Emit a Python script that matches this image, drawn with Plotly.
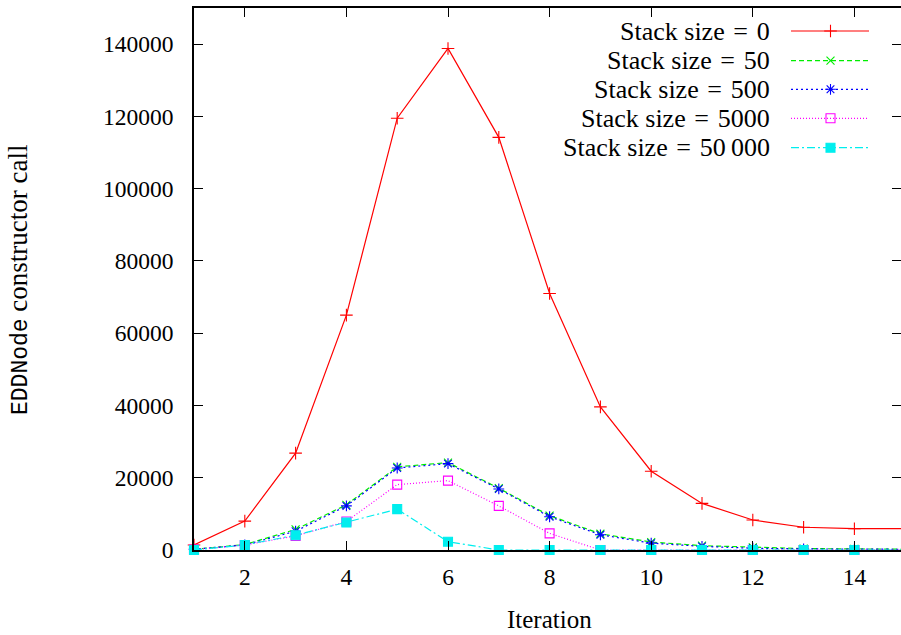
import plotly.graph_objects as go

iterations = list(range(1, 16))
s0 = [1400, 8000, 26800, 65000, 119500, 138800, 114200, 71000, 39600, 21800, 12900, 8300, 6300, 5900, 5900]
s50 = [200, 1500, 5700, 12500, 23000, 24200, 17100, 9500, 4500, 2200, 1200, 700, 400, 300, 200]
s500 = [200, 1400, 5200, 12200, 22700, 23900, 16900, 9200, 4200, 1900, 1000, 500, 300, 250, 200]
s5000 = [100, 1400, 3900, 7900, 18100, 19200, 12200, 4600, 0, 0, 0, 0, 0, 0, 0]
s50000 = [0, 1400, 4100, 7600, 11300, 2300, 0, 0, 0, 0, 0, 0, 0, 0, 0]

SP = "\u2004"
names = [f"Stack size{SP}={SP}0", f"Stack size{SP}={SP}50", f"Stack size{SP}={SP}500",
         f"Stack size{SP}={SP}5000", f"Stack size{SP}={SP}50\u2009000"]
series = [s0, s50, s500, s5000, s50000]
colors = ["#ff0000", "#00ee00", "#0000ff", "#ff00ff", "#00eeee"]
dashes = ["solid", "5px,3px", "2px,3px", "1px,2px", "8px,3px,2px,3px"]
symbols = ["cross-thin", "x-thin", "asterisk", "square-open", "square"]
msizes = [9, 8, 9, 9, 9]

FONT = "Liberation Serif, serif"
L, R, T, B = 194, 0, 8, 85
W, H = 901, 635
pw = W - L - R
xmax = 1 + pw / 50.8

fig = go.Figure()
for nm, ys, c, d, s, ms in zip(names, series, colors, dashes, symbols, msizes):
    fig.add_trace(go.Scatter(
        x=iterations, y=ys, mode="lines+markers", name=nm,
        line=dict(color=c, width=1.2, dash=d),
        marker=dict(symbol=s, size=ms, color=c, line=dict(color=c, width=1.1)),
        cliponaxis=False, showlegend=False))

# manual legend (text right, sample on right) in pixel-like overlay axes
leg_y = [31, 60.7, 89.3, 118.3, 147.7]
for nm, c, d, s, ms, yy in zip(names, colors, dashes, symbols, msizes, leg_y):
    fig.add_trace(go.Scatter(
        x=[791, 869], y=[yy, yy], mode="lines", xaxis="x2", yaxis="y2",
        line=dict(color=c, width=1.2, dash=d), showlegend=False, hoverinfo="skip"))
    fig.add_trace(go.Scatter(
        x=[830.5], y=[yy], mode="markers", xaxis="x2", yaxis="y2",
        marker=dict(symbol=s, size=ms, color=c, line=dict(color=c, width=1.1)),
        showlegend=False, hoverinfo="skip"))
    fig.add_annotation(x=772, y=yy, xref="x2", yref="y2", text=nm,
                       showarrow=False, xanchor="right", yanchor="middle",
                       font=dict(family=FONT, size=26, color="black"))

ticks_y = [0, 20000, 40000, 60000, 80000, 100000, 120000, 140000]
fig.update_layout(
    width=W, height=H,
    margin=dict(l=L, r=R, t=T, b=B),
    paper_bgcolor="white", plot_bgcolor="white",
    font=dict(family=FONT, size=23, color="black"),
    xaxis=dict(range=[1, xmax], tickvals=[2, 4, 6, 8, 10, 12, 14],
               ticks="inside", ticklen=9, tickwidth=1.3, tickcolor="black",
               showline=True, linecolor="black", linewidth=1.5, mirror="ticks",
               showgrid=False, zeroline=False, ticklabelstandoff=5,
               tickfont=dict(family=FONT, size=23.5)),
    yaxis=dict(range=[0, 150000], tickvals=ticks_y,
               ticktext=[str(v) for v in ticks_y],
               ticks="inside", ticklen=9, tickwidth=1.3, tickcolor="black",
               showline=True, linecolor="black", linewidth=1.5, mirror=False,
               showgrid=False, zeroline=False, ticklabelstandoff=14,
               tickfont=dict(family=FONT, size=23.5)),
    yaxis3=dict(overlaying="y", side="right", matches="y", range=[0, 150000],
                tickvals=ticks_y,
                ticks="inside", ticklen=9, tickwidth=1.3, tickcolor="black",
                showticklabels=False, showline=False, showgrid=False, zeroline=False),
    xaxis2=dict(overlaying="x", range=[L, W - R], visible=False),
    yaxis2=dict(overlaying="y", range=[H - B, T], visible=False),
)
fig.add_trace(go.Scatter(x=[None], y=[None], yaxis="y3", showlegend=False))

fig.add_annotation(x=(18 - L) / pw, y=(H - B - 280) / (H - B - T), xref="paper", yref="paper",
                   text="<span style='font-family:Liberation Mono;font-size:23px'>EDDNode</span> constructor call",
                   textangle=-90, showarrow=False, xanchor="center", yanchor="middle",
                   font=dict(family=FONT, size=27, color="black"))
fig.add_annotation(x=(549.5 - L) / pw, y=-(619 - (H - B)) / (H - B - T), xref="paper", yref="paper",
                   text="Iteration", showarrow=False, xanchor="center", yanchor="middle",
                   font=dict(family=FONT, size=25, color="black"))

fig.write_html("out.html")
